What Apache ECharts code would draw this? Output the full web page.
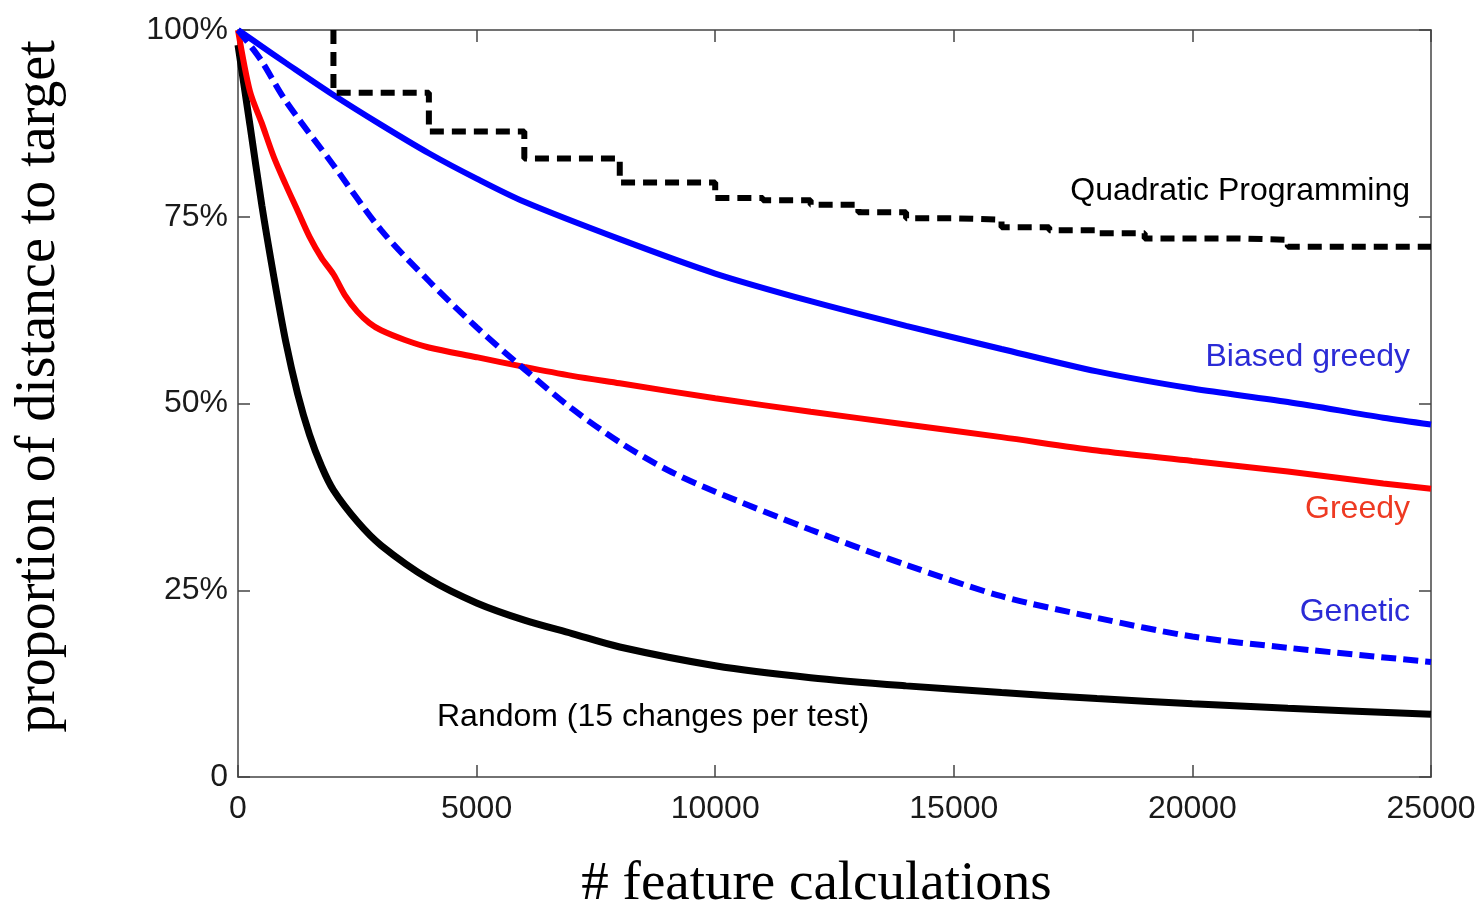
<!DOCTYPE html>
<html lang="en">
<head>
    <meta charset="UTF-8">
    <title>distance to target vs feature calculations</title>
    <script src="https://cdn.jsdelivr.net/npm/echarts@6/dist/echarts.min.js"></script>
    <style>
        html, body { margin: 0; padding: 0; background: #fff; }
        #main { width: 1479px; height: 902px; }
    </style>
</head>
<body>
<div id="main"></div>
<script>
    // values, x = # feature calculations, y = % of distance left
    var randomX = [0, 250, 500, 750, 1000, 1250, 1500, 1750, 2000, 2500, 3000, 4000, 5000, 6000, 7000, 8000, 10000, 12000, 14000, 16000, 18000, 20000, 22000, 25000];
    var randomY = [98, 87.3, 76.5, 67, 58.3, 51.3, 45.8, 41.6, 38.4, 34.2, 31, 26.5, 23.3, 21, 19.2, 17.4, 14.9, 13.3, 12.2, 11.3, 10.5, 9.8, 9.2, 8.4];

    var greedyX = [0, 250, 500, 750, 1000, 1250, 1500, 1750, 2000, 2250, 2500, 2750, 3000, 3500, 4000, 5000, 6000, 7000, 8000, 10000, 12000, 14000, 16000, 18000, 20000, 22000, 24000, 25000];
    var greedyY = [100, 91.8, 87.5, 83, 79.3, 75.8, 72.3, 69.5, 67.3, 64.4, 62.3, 60.8, 59.8, 58.5, 57.5, 56.2, 54.9, 53.7, 52.7, 50.7, 48.9, 47.2, 45.5, 43.7, 42.3, 40.9, 39.3, 38.6];

    var biasedX = [0, 500, 1000, 2000, 3000, 4000, 5000, 6000, 8000, 10000, 12000, 14000, 16000, 18000, 20000, 22000, 24000, 25000];
    var biasedY = [100, 97.8, 95.6, 91.3, 87.3, 83.5, 80.1, 77.0, 72.0, 67.4, 63.7, 60.4, 57.3, 54.3, 52.0, 50.2, 48.1, 47.2];

    var geneticX = [0, 250, 500, 1000, 2000, 3000, 4000, 5000, 6000, 7000, 8000, 9000, 10000, 12000, 14000, 16000, 18000, 20000, 22000, 25000];
    var geneticY = [100, 98, 95.8, 90.5, 81.9, 73.2, 66.4, 60.2, 54.6, 49.3, 44.8, 41.1, 38.2, 33.1, 28.4, 24.2, 21.3, 18.8, 17.3, 15.4];

    // step line: value holds from each x until the next one
    var quadX = [2000, 2000, 4000, 6000, 8000, 10000, 11000, 12000, 13000, 14000, 15000, 16000, 17000, 18000, 19000, 21000, 22000, 25000];
    var quadY = [100, 91.6, 86.4, 82.8, 79.6, 77.5, 77.2, 76.6, 75.6, 74.8, 74.6, 73.6, 73.2, 72.8, 72.1, 71.9, 71.0, 71.0];

    var xTicks = [0, 5000, 10000, 15000, 20000, 25000];
    var yTicks = [0, 25, 50, 75, 100];

    var labelNames = ['Quadratic Programming', 'Biased greedy', 'Greedy', 'Genetic', 'Random (15 changes per test)'];
    var labelX = [24560, 24560, 24560, 24560, 4170];
    var labelY = [78.4, 56.2, 35.9, 22.1, 8.0];

    function pairs(xs, ys) {
        var out = [];
        for (var i = 0; i < xs.length; i++) {
            out.push([xs[i], ys[i]]);
        }
        return out;
    }

    var frame = {show: true, onZero: false, lineStyle: {color: '#444', width: 1.5}};
    var tick = {show: true, inside: true, length: 12, lineStyle: {color: '#444', width: 1.5}};
    var tickFont = {fontFamily: 'Liberation Sans', fontSize: 32, color: '#1a1a1a'};

    var myChart = echarts.init(document.getElementById('main'));

    var option = {
        backgroundColor: '#fff',
        animation: false,
        grid: {left: 238, right: 48, top: 30, bottom: 125, containLabel: false, outerBoundsMode: 'none'},
        xAxis: [{
            type: 'value',
            min: xTicks[0],
            max: xTicks[xTicks.length - 1],
            interval: 5000,
            position: 'bottom',
            axisLine: frame,
            axisTick: tick,
            splitLine: {show: false},
            axisLabel: Object.assign({
                margin: 16,
                formatter: function (v) {
                    return String(v);
                }
            }, tickFont),
            name: '# feature calculations',
            nameLocation: 'middle',
            nameGap: 80,
            nameTextStyle: {fontFamily: 'Liberation Serif', fontSize: 55, color: '#000', padding: [0, 36, 0, 0]}
        }, {
            type: 'value',
            min: xTicks[0],
            max: xTicks[xTicks.length - 1],
            interval: 5000,
            position: 'top',
            axisLine: frame,
            axisTick: tick,
            splitLine: {show: false},
            axisLabel: {show: false}
        }],
        yAxis: [{
            type: 'value',
            min: yTicks[0],
            max: yTicks[yTicks.length - 1],
            interval: 25,
            position: 'left',
            axisLine: frame,
            axisTick: tick,
            splitLine: {show: false},
            axisLabel: Object.assign({
                margin: 10,
                formatter: function (v) {
                    return v === 0 ? '0' : v + '%';
                }
            }, tickFont),
            name: 'proportion of distance to target',
            nameLocation: 'middle',
            nameGap: 171,
            nameTextStyle: {fontFamily: 'Liberation Serif', fontSize: 56, color: '#000', padding: [0, 0, 0, 34]}
        }, {
            type: 'value',
            min: yTicks[0],
            max: yTicks[yTicks.length - 1],
            interval: 25,
            position: 'right',
            axisLine: frame,
            axisTick: tick,
            splitLine: {show: false},
            axisLabel: {show: false}
        }],
        series: [{
            name: 'Random',
            type: 'line',
            showSymbol: false,
            smooth: 0.3,
            data: pairs(randomX, randomY),
            lineStyle: {color: '#000', width: 7}
        }, {
            name: 'Greedy',
            type: 'line',
            showSymbol: false,
            smooth: 0.3,
            data: pairs(greedyX, greedyY),
            lineStyle: {color: '#ff0000', width: 6}
        }, {
            name: 'Genetic',
            type: 'line',
            showSymbol: false,
            smooth: 0.3,
            data: pairs(geneticX, geneticY),
            lineStyle: {color: '#0000ff', width: 6, type: [15, 7]}
        }, {
            name: 'Biased greedy',
            type: 'line',
            showSymbol: false,
            smooth: 0.3,
            data: pairs(biasedX, biasedY),
            lineStyle: {color: '#0000ff', width: 6}
        }, {
            name: 'Quadratic Programming',
            type: 'line',
            showSymbol: false,
            step: 'end',
            data: pairs(quadX, quadY),
            lineStyle: {color: '#000', width: 6, type: [14, 8]}
        }]
    };

    myChart.setOption(option);

    // series labels, placed in data coordinates
    var labelColors = ['#000', '#2b2bd6', '#ee3a22', '#2b2bd6', '#000'];
    var labelAlign = ['right', 'right', 'right', 'right', 'left'];
    var texts = [];
    for (var i = 0; i < labelNames.length; i++) {
        var p = myChart.convertToPixel({gridIndex: 0}, [labelX[i], labelY[i]]);
        texts.push({
            type: 'text',
            x: p[0],
            y: p[1],
            style: {
                text: labelNames[i],
                fill: labelColors[i],
                fontFamily: 'Liberation Sans',
                fontSize: 32,
                align: labelAlign[i],
                verticalAlign: 'middle'
            }
        });
    }
    myChart.setOption({graphic: texts});
</script>
</body>
</html>
